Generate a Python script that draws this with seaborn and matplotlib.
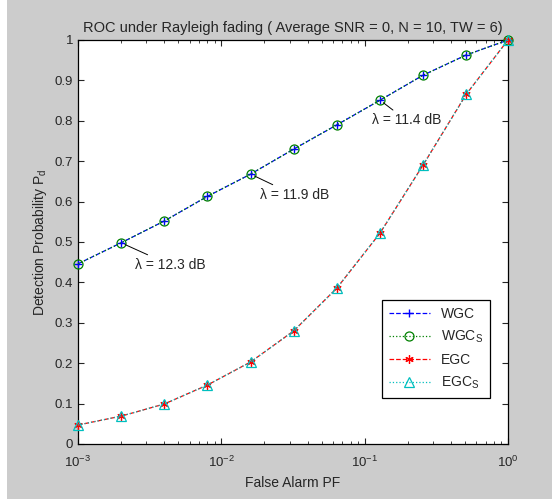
import numpy as np
import pandas as pd
import seaborn as sns
import matplotlib
matplotlib.use('Agg')
import matplotlib.pyplot as plt
from matplotlib.patches import Rectangle

# false alarm probabilities (doubling from 1e-3)
pf = [0.001, 0.002, 0.004, 0.008, 0.016, 0.032, 0.064, 0.128, 0.256, 0.512, 1.0]
wgc = [0.446, 0.498, 0.552, 0.613, 0.668, 0.730, 0.790, 0.851, 0.913, 0.963, 1.0]
wgc_s = [0.446, 0.498, 0.552, 0.613, 0.668, 0.730, 0.790, 0.851, 0.913, 0.963, 1.0]
egc = [0.047, 0.069, 0.099, 0.146, 0.203, 0.280, 0.386, 0.522, 0.691, 0.866, 1.0]
egc_s = [0.047, 0.069, 0.099, 0.146, 0.203, 0.280, 0.386, 0.522, 0.691, 0.866, 1.0]

labels = ['WGC', r'WGC$_{\mathrm{S}}$', 'EGC', r'EGC$_{\mathrm{S}}$']
notes = [(0.002, 0.498, 'λ = 12.3 dB', (10, -16)),
         (0.016, 0.668, 'λ = 11.9 dB', (6.5, -15)),
         (0.128, 0.851, 'λ = 11.4 dB', (-6, -14.5))]

sns.set_style('ticks')
plt.rcParams['font.family'] = ['Liberation Sans', 'DejaVu Sans']
plt.rcParams['mathtext.fontset'] = 'custom'
plt.rcParams['mathtext.rm'] = 'Liberation Sans'
plt.rcParams['mathtext.it'] = 'Liberation Sans:italic'
plt.rcParams['font.size'] = 9.5

fig = plt.figure(figsize=(5.56, 4.99), dpi=100)
fig.patch.set_facecolor('white')
fig.patches.append(Rectangle((7/556, 0), 545/556, 1, transform=fig.transFigure,
                             facecolor='#cccccc', edgecolor='none', zorder=-10))
ax = fig.add_axes([78/556, 1-444/499, 430/556, 404/499])

df = pd.DataFrame({'pf': pf, 'WGC': wgc, 'WGCs': wgc_s, 'EGC': egc, 'EGCs': egc_s})

sns.lineplot(data=df, x='pf', y='WGC', ax=ax, color='blue', linestyle='--', lw=0.9,
             marker='+', markersize=6, mec='blue', mew=1.0, label=labels[0],
             clip_on=False, zorder=3)
sns.lineplot(data=df, x='pf', y='WGCs', ax=ax, color='#008000', linestyle=':', lw=0.9,
             marker='o', markersize=6.5, mfc='none', mec='#008000', mew=0.9, label=labels[1],
             clip_on=False, zorder=3)
sns.lineplot(data=df, x='pf', y='EGC', ax=ax, color='red', linestyle='--', lw=0.9,
             marker=(6, 2, 0), markersize=6, mec='red', mew=0.9, label=labels[2],
             clip_on=False, zorder=3)
sns.lineplot(data=df, x='pf', y='EGCs', ax=ax, color='#00bfbf', linestyle=':', lw=0.9,
             marker='^', markersize=6.5, mfc='none', mec='#00bfbf', mew=0.9, label=labels[3],
             clip_on=False, zorder=3)

ax.set_xscale('log')
ax.set_xlim(1e-3, 1)
ax.set_ylim(0, 1)
ax.set_yticks(np.arange(0, 1.01, 0.1))
ax.set_yticklabels(['0', '0.1', '0.2', '0.3', '0.4', '0.5', '0.6', '0.7', '0.8', '0.9', '1'])
ax.tick_params(which='both', direction='in', top=True, right=True, labelsize=9.5)
ax.tick_params(axis='x', which='major', pad=8)
ax.tick_params(which='major', length=4)
ax.tick_params(which='minor', length=2)
for s in ax.spines.values():
    s.set_linewidth(0.9)
    s.set_color('black')

ax.set_title('ROC under Rayleigh fading ( Average SNR = 0, N = 10, TW = 6)', fontsize=10.5, pad=6)
ax.set_xlabel('False Alarm PF', fontsize=10)
ax.set_ylabel(r'Detection Probability P$_{\mathrm{d}}$', fontsize=10)

for (x, y, t, off) in notes:
    ax.annotate(t, xy=(x, y), xytext=off, textcoords='offset points',
                fontsize=10, ha='left', va='center',
                arrowprops=dict(arrowstyle='-', color='black', lw=0.7, shrinkA=0, shrinkB=3))

leg = ax.legend(loc='lower left', bbox_to_anchor=(0.69, 0.097), fancybox=False,
                framealpha=1, edgecolor='black', fontsize=10, handlelength=3.0,
                borderpad=0.5, labelspacing=0.55)
leg.get_frame().set_linewidth(0.9)

fig.savefig('out.png', dpi=100, facecolor=fig.get_facecolor())
